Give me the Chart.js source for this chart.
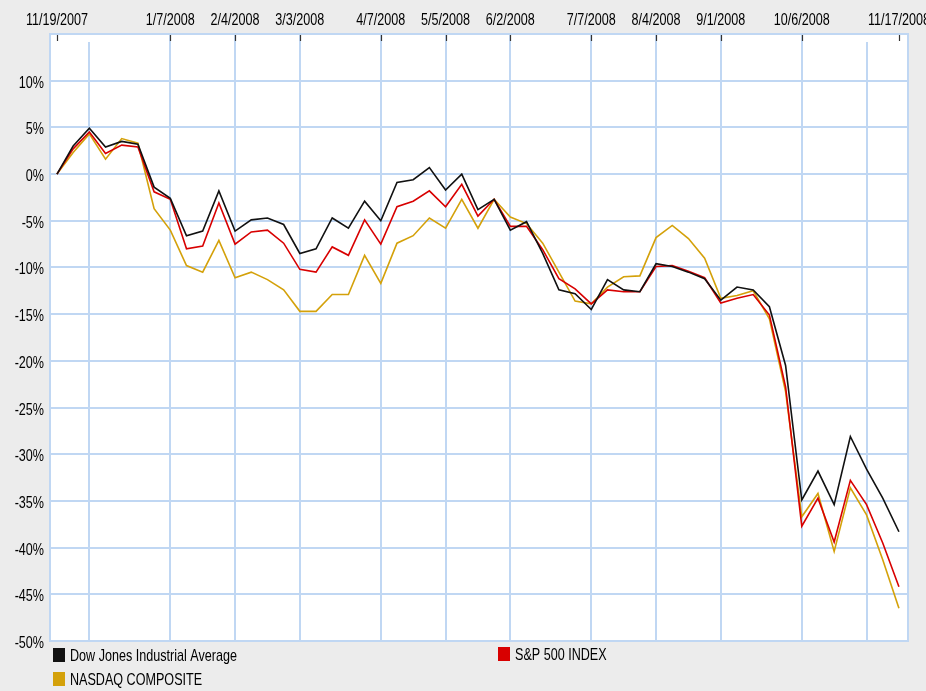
<!DOCTYPE html>
<html>
<head>
<meta charset="utf-8">
<script src="https://cdn.jsdelivr.net/npm/chart.js@4.4.1/dist/chart.umd.min.js"></script>
<style>
  html, body { margin: 0; padding: 0; background: #ececec; }
  #chart { display: block; }
</style>
</head>
<body>
<canvas id="chart" width="926" height="691"></canvas>
<script>
// Weekly closes (Mondays), percent change since 11/19/2007
const weeks = [
  '11/19/2007','11/26/2007','12/3/2007','12/10/2007','12/17/2007','12/24/2007','12/31/2007',
  '1/7/2008','1/14/2008','1/21/2008','1/28/2008','2/4/2008','2/11/2008','2/18/2008','2/25/2008',
  '3/3/2008','3/10/2008','3/17/2008','3/24/2008','3/31/2008','4/7/2008','4/14/2008','4/21/2008',
  '4/28/2008','5/5/2008','5/12/2008','5/19/2008','5/26/2008','6/2/2008','6/9/2008','6/16/2008',
  '6/23/2008','6/30/2008','7/7/2008','7/14/2008','7/21/2008','7/28/2008','8/4/2008','8/11/2008',
  '8/18/2008','8/25/2008','9/1/2008','9/8/2008','9/15/2008','9/22/2008','9/29/2008','10/6/2008',
  '10/13/2008','10/20/2008','10/27/2008','11/3/2008','11/10/2008','11/17/2008'
];

const dowJones = [
  0, 3.0, 4.9, 2.9, 3.5, 3.2, -1.4,
  -2.6, -6.6, -6.1, -1.8, -6.1, -4.9, -4.7, -5.4,
  -8.5, -8.0, -4.7, -5.8, -2.9, -5.0, -0.9, -0.6,
  0.7, -1.7, 0.0, -3.8, -2.7, -6.0, -5.1, -8.5,
  -12.4, -12.8, -14.5, -11.3, -12.4, -12.6, -9.6, -9.9,
  -10.5, -11.2, -13.5, -12.1, -12.4, -14.2, -20.5, -34.9,
  -31.8, -35.4, -28.1, -31.6, -34.7, -38.3
];

const sp500 = [
  0, 2.7, 4.5, 2.2, 3.1, 2.9, -1.9,
  -2.7, -8.0, -7.7, -3.1, -7.5, -6.2, -6.0, -7.4,
  -10.2, -10.5, -7.8, -8.7, -4.9, -7.5, -3.5, -2.9,
  -1.8, -3.5, -1.1, -4.5, -2.7, -5.6, -5.6, -8.1,
  -11.2, -12.3, -13.9, -12.4, -12.6, -12.6, -9.9, -9.8,
  -10.4, -11.1, -13.8, -13.3, -12.9, -15.1, -22.8, -37.7,
  -34.7, -39.4, -32.8, -35.4, -39.5, -44.2
];

const nasdaq = [
  0, 2.3, 4.3, 1.6, 3.8, 3.3, -3.7,
  -6.0, -9.8, -10.5, -7.1, -11.1, -10.5, -11.3, -12.4,
  -14.7, -14.7, -12.9, -12.9, -8.7, -11.7, -7.4, -6.6,
  -4.7, -5.8, -2.7, -5.8, -2.7, -4.6, -5.3, -7.4,
  -10.5, -13.6, -13.9, -12.1, -11.0, -10.9, -6.8, -5.5,
  -6.9, -9.0, -13.3, -13.0, -12.5, -15.5, -23.3, -36.7,
  -34.2, -40.4, -33.6, -36.5, -41.3, -46.5
];

// Dates printed along the top edge
const dateLabels = [
  '11/19/2007','1/7/2008','2/4/2008','3/3/2008','4/7/2008','5/5/2008',
  '6/2/2008','7/7/2008','8/4/2008','9/1/2008','10/6/2008','11/17/2008'
];
// First Monday of each month: vertical grid lines
const monthStarts = [
  '12/3/2007','1/7/2008','2/4/2008','3/3/2008','4/7/2008','5/5/2008',
  '6/2/2008','7/7/2008','8/4/2008','9/1/2008','10/6/2008','11/3/2008'
];
const yTicks = [10, 5, 0, -5, -10, -15, -20, -25, -30, -35, -40, -45, -50];

const seriesNames = ['Dow Jones Industrial Average', 'S&P 500 INDEX', 'NASDAQ COMPOSITE'];
const seriesColors = ['#111111', '#d80000', '#d4a10a'];

const GRID = '#c0d7f3';
const TEXT = '#000000';
const FONT = '17px "Liberation Sans", Arial, sans-serif';
const SQUEEZE = 0.74;   // narrow, tall lettering

const labelIdx = dateLabels.map(d => weeks.indexOf(d));
const gridIdx = monthStarts.map(d => weeks.indexOf(d));
const tickIdx = Array.from(new Set(labelIdx.concat(gridIdx))).sort((a, b) => a - b);

const toPoints = arr => arr.map((v, i) => ({ x: i, y: v }));

function squeezedText(ctx, text, x, y, align) {
  ctx.save();
  ctx.translate(x, y);
  ctx.scale(SQUEEZE, 1);
  ctx.font = FONT;
  ctx.fillStyle = TEXT;
  ctx.textAlign = align;
  ctx.textBaseline = 'alphabetic';
  ctx.fillText(text, 0, 0);
  ctx.restore();
}

// White plot area, frame, short top tick marks and the shorter unlabeled month lines
const plotDecor = {
  id: 'plotDecor',
  beforeDraw(chart) {
    const { ctx, chartArea: a } = chart;
    ctx.save();
    ctx.fillStyle = '#ececec';
    ctx.fillRect(0, 0, chart.width, chart.height);
    ctx.fillStyle = '#ffffff';
    ctx.fillRect(a.left, a.top, a.right - a.left, a.bottom - a.top);
    ctx.restore();
  },
  beforeDatasetsDraw(chart) {
    const { ctx, chartArea: a, scales } = chart;
    ctx.save();
    ctx.strokeStyle = GRID;
    ctx.lineWidth = 2;
    gridIdx.filter(i => !labelIdx.includes(i)).forEach(i => {
      const x = Math.round(scales.x.getPixelForValue(i));
      ctx.beginPath();
      ctx.moveTo(x, a.top + 8);
      ctx.lineTo(x, a.bottom);
      ctx.stroke();
    });
    ctx.strokeRect(a.left, a.top, a.right - a.left, a.bottom - a.top);
    ctx.strokeStyle = '#333333';
    ctx.lineWidth = 1.2;
    labelIdx.forEach(i => {
      const x = Math.round(scales.x.getPixelForValue(i)) + 0.5;
      ctx.beginPath();
      ctx.moveTo(x, a.top + 1);
      ctx.lineTo(x, a.top + 7);
      ctx.stroke();
    });
    ctx.restore();
  },
  // Axis labels and legend in narrow lettering
  afterDraw(chart) {
    const { ctx, chartArea: a, scales } = chart;
    labelIdx.forEach(i => {
      squeezedText(ctx, weeks[i], scales.x.getPixelForValue(i), a.top - 9, 'center');
    });
    yTicks.forEach(v => {
      squeezedText(ctx, v + '%', a.left - 6, scales.y.getPixelForValue(v) + 7, 'right');
    });
    const slots = [[a.left + 3, a.bottom + 7], [a.left + 448, a.bottom + 6], [a.left + 3, a.bottom + 31]];
    chart.data.datasets.forEach((ds, k) => {
      const [sx, sy] = slots[k];
      ctx.save();
      ctx.fillStyle = ds.borderColor;
      ctx.fillRect(sx, sy, 12, 14);
      ctx.restore();
      squeezedText(ctx, ds.label, sx + 17, sy + 13, 'left');
    });
  }
};

const chart = new Chart(document.getElementById('chart'), {
  type: 'line',
  data: {
    datasets: [dowJones, sp500, nasdaq].map((arr, k) => ({
      label: seriesNames[k],
      data: toPoints(arr),
      borderColor: seriesColors[k],
      backgroundColor: seriesColors[k],
      borderWidth: 1.6,
      pointRadius: 0,
      tension: 0,
      fill: false
    }))
  },
  options: {
    responsive: false,
    animation: false,
    devicePixelRatio: 1,
    layout: { padding: { left: 0, right: 18, top: 0, bottom: 50 } },
    plugins: { legend: { display: false }, tooltip: { enabled: false } },
    scales: {
      x: {
        type: 'linear',
        position: 'top',
        min: -0.43,
        max: 52.56,
        afterBuildTicks(scale) { scale.ticks = tickIdx.map(v => ({ value: v })); },
        afterFit(scale) { scale.height = 34; scale.paddingLeft = 0; scale.paddingRight = 0; },
        ticks: { display: false, autoSkip: false },
        grid: {
          drawTicks: false,
          lineWidth: 2,
          color: ctx => (ctx.tick && labelIdx.includes(ctx.tick.value) && gridIdx.includes(ctx.tick.value)) ? GRID : 'rgba(0,0,0,0)'
        },
        border: { display: false }
      },
      y: {
        min: -50,
        max: 15,
        afterBuildTicks(scale) { scale.ticks = yTicks.concat([15]).map(v => ({ value: v })); },
        afterFit(scale) { scale.width = 50; },
        ticks: { display: false },
        grid: { drawTicks: false, lineWidth: 2, color: GRID },
        border: { display: false }
      }
    }
  },
  plugins: [plotDecor]
});
</script>
</body>
</html>
